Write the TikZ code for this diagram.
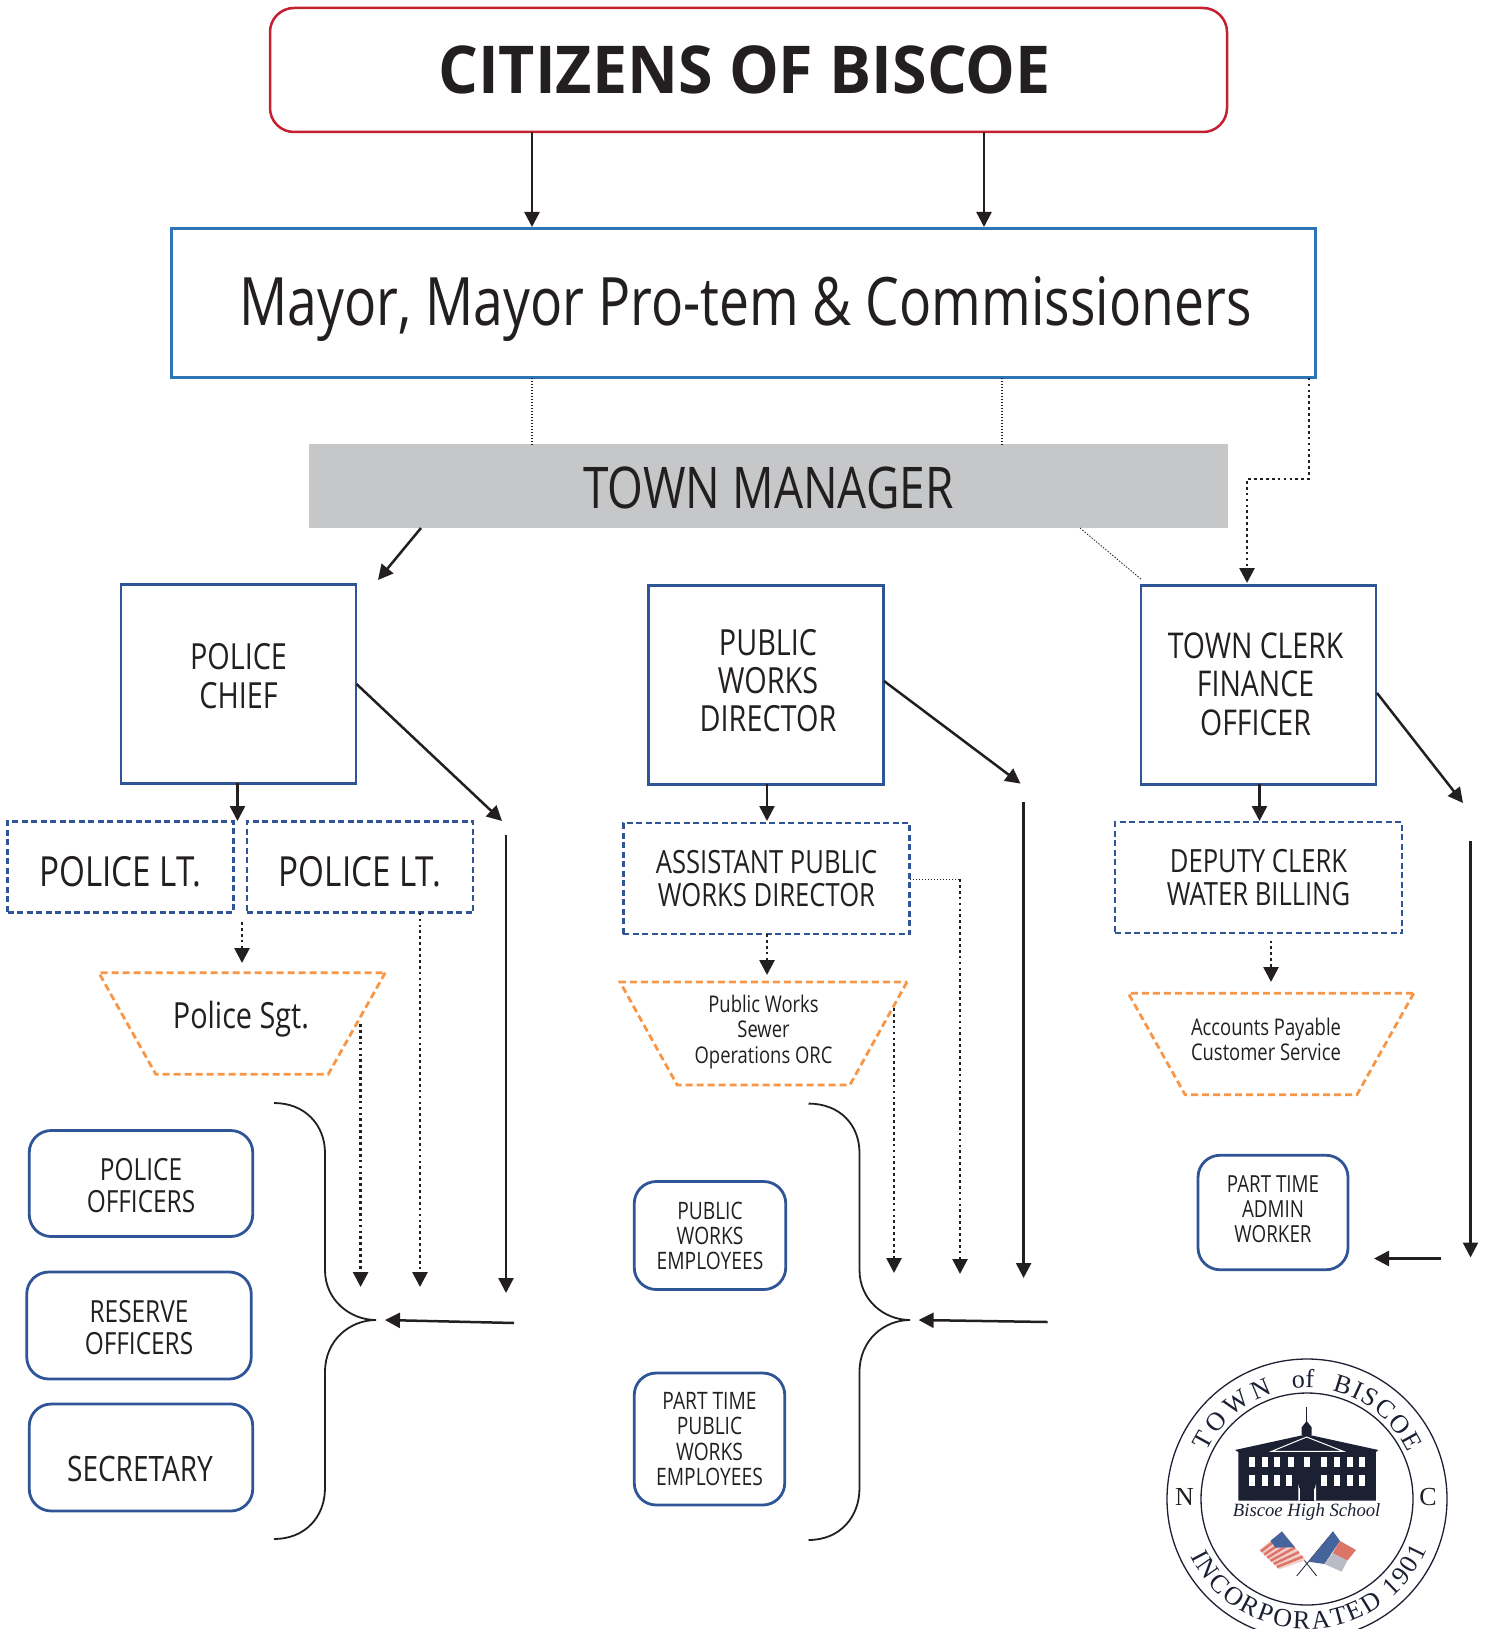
\documentclass[tikz,border=0pt]{standalone}
\usepackage{xcolor}
\usepackage{fontspec}
\setmainfont{Open Sans}[FakeStretch=0.8]
\newfontfamily\titlefont{Open Sans}[FakeStretch=0.95]
\newfontfamily\sealfont{Liberation Serif}
\usepackage{tikz}
\usetikzlibrary{shapes.geometric,arrows.meta,decorations.text,calc}
\definecolor{inkline}{HTML}{231F20}
\definecolor{redline}{HTML}{C4202F}
\definecolor{skyline}{HTML}{2E75B6}
\definecolor{navyline}{HTML}{2F5597}
\definecolor{orangeline}{HTML}{F79646}
\definecolor{managergray}{HTML}{C6C7C9}
\definecolor{schoolnavy}{HTML}{1C2033}
\definecolor{flagred}{HTML}{DC7468}
\definecolor{flagblue}{HTML}{46649C}
\definecolor{flaggray}{HTML}{BBBBC6}
\newcommand{\fs}[2]{\fontsize{#1}{#2}\selectfont}

\begin{document}
\begin{tikzpicture}[x=1pt,y=-1pt,
		every node/.style={align=center, text=inkline, inner sep=0pt, outer sep=0pt},
		squarebox/.style={draw=navyline, line width=2.8pt},
		dashbox/.style={draw=navyline, line width=2.8pt, dash pattern=on 6pt off 3.5pt},
		softbox/.style={draw=navyline, line width=2.8pt, rounded corners=22pt},
		trapbox/.style={draw=orangeline, line width=2.8pt, dash pattern=on 7pt off 4pt, trapezium, shape border rotate=180, trapezium stretches=true, trapezium left angle=71.5, trapezium right angle=71.5},
		solidarrow/.style={draw=inkline, line width=2.5pt, -{Triangle[length=15pt,width=15pt]}},
		dotarrow/.style={draw=inkline, line width=2.7pt, dash pattern=on 2.7pt off 3.2pt, -{Triangle[length=15pt,width=15pt]}},
		thindots/.style={draw=inkline, line width=0.8pt, dash pattern=on 1.5pt off 1.5pt},
		bracket/.style={draw=inkline, line width=1.8pt}]
	\useasboundingbox (0,0) rectangle (1487,1629);

	% top of the chart
	\node[draw=redline, line width=2.5pt, rounded corners=24pt, minimum width=957pt, minimum height=124pt, label={[font=\titlefont\fs{66}{70}\bfseries,xshift=-4pt]center:{CITIZENS OF BISCOE}}] (citizens) at (748.5,70) {};
	\node[draw=skyline, line width=2.8pt, minimum width=1144.5pt, minimum height=149.5pt, label={[font=\fs{66.8}{70},yshift=-6pt,xshift=2pt]center:{Mayor, Mayor Pro-tem \& Commissioners}}] (mayor) at (743.5,303) {};
	\node[fill=managergray, minimum width=919pt, minimum height=84pt, label={[font=\fs{57.5}{60},yshift=-2pt]center:{TOWN MANAGER}}] (manager) at (768.5,486) {};

	% department heads
	\node[squarebox, minimum width=235pt, minimum height=198.5pt, label={[font=\fs{36}{39.5},yshift=8pt]center:{POLICE\\CHIEF}}] (chief) at (238.5,684) {};
	\node[squarebox, minimum width=234.5pt, minimum height=198.5pt, label={[font=\fs{36}{38},yshift=4.5pt,xshift=2pt]center:{PUBLIC\\WORKS\\DIRECTOR}}] (director) at (766,685) {};
	\node[squarebox, minimum width=235pt, minimum height=198.5pt, label={[font=\fs{35.5}{38.5},xshift=-3pt,yshift=1pt]center:{TOWN CLERK\\FINANCE\\OFFICER}}] (clerk) at (1258.5,685) {};

	% dashed second row
	\node[dashbox, minimum width=225.5pt, minimum height=91.5pt, label={[font=\fs{41.5}{42},yshift=-5pt]center:{POLICE LT.}}] (lt a) at (120.5,867) {};
	\node[dashbox, minimum width=226pt, minimum height=91.5pt, label={[font=\fs{41.5}{42},yshift=-5pt]center:{POLICE LT.}}] (lt b) at (360,867) {};
	\node[dashbox, minimum width=286.5pt, minimum height=111pt, font=\fs{32}{33.5}] (assistant) at (766.5,878.5) {ASSISTANT PUBLIC\\WORKS DIRECTOR};
	\node[dashbox, minimum width=287pt, minimum height=111pt, font=\fs{32}{33.5}] (deputy) at (1258.5,877.5) {DEPUTY CLERK\\WATER BILLING};

	% trapezoids, their texts sit a little high
	\node[trapbox, minimum width=286.5pt, minimum height=101.5pt] (sgt) at (242,1023.5) {\phantom{M}};
	\node[font=\fs{36}{36}] (sgt text) at (241,1019) {Police Sgt.};
	\node[trapbox, minimum width=287pt, minimum height=103pt] (sewer) at (763.5,1033.5) {\phantom{M}};
	\node[font=\fs{23}{25.5}] (sewer text) at (763.5,1032) {Public Works\\Sewer\\Operations ORC};
	\node[trapbox, minimum width=285.5pt, minimum height=101.5pt] (accounts) at (1271,1044) {\phantom{M}};
	\node[font=\fs{23}{25}] (accounts text) at (1266,1039) {Accounts Payable\\Customer Service};

	% staff boxes
	\node[softbox, minimum width=223.5pt, minimum height=106pt, label={[font=\fs{30.5}{32},yshift=-2.5pt]center:{POLICE\\OFFICERS}}] (officers) at (141,1183.5) {};
	\node[softbox, minimum width=224.5pt, minimum height=107pt, label={[font=\fs{30.5}{32},yshift=-2pt]center:{RESERVE\\OFFICERS}}] (reserve) at (139,1325.5) {};
	\node[softbox, minimum width=223.5pt, minimum height=107pt, label={[font=\fs{35}{32},yshift=-11pt,xshift=-1pt]center:SECRETARY}] (secretary) at (141,1457.5) {};
	\node[softbox, minimum width=151.5pt, minimum height=108pt, font=\fs{24}{25}] (employees) at (710,1235.5) {PUBLIC\\WORKS\\EMPLOYEES};
	\node[softbox, minimum width=150.5pt, minimum height=132pt, font=\fs{24}{25.5}] (part public) at (709.5,1439) {PART TIME\\PUBLIC\\WORKS\\EMPLOYEES};
	\node[softbox, minimum width=150pt, minimum height=114.5pt, label={[font=\fs{23.5}{25},yshift=3pt]center:{PART TIME\\ADMIN\\WORKER}}] (part admin) at (1273,1212.5) {};

	% free ends of the connectors
	\coordinate (mayor a) at (532,227);
	\coordinate (mayor b) at (984,227);
	\coordinate (manager a) at (532,444);
	\coordinate (manager b) at (1002,444);
	\coordinate (elbow a) at (1309,479);
	\coordinate (elbow b) at (1247,479);
	\coordinate (clerk in) at (1247,583);
	\coordinate (diag a) at (1080,528);
	\coordinate (diag b) at (1142,580);
	\coordinate (chief in a) at (421,528);
	\coordinate (chief in b) at (378,580);
	\coordinate (chief out a) at (356.5,684);
	\coordinate (chief out b) at (502,821);
	\coordinate (director out a) at (884,681);
	\coordinate (director out b) at (1020.5,783.6);
	\coordinate (clerk out a) at (1377,693);
	\coordinate (clerk out b) at (1463,803);
	\coordinate (lt in) at (237.5,821);
	\coordinate (assistant in) at (767,821);
	\coordinate (deputy in) at (1259.5,821);
	\coordinate (lt out) at (242,922);
	\coordinate (sgt in) at (242,963);
	\coordinate (sewer in) at (767,975);
	\coordinate (deputy out) at (1271,940.5);
	\coordinate (accounts in) at (1271,982);
	\coordinate (sgt out) at (360.6,1024);
	\coordinate (sgt end) at (360.6,1287);
	\coordinate (lt end) at (420,1287);
	\coordinate (police top) at (506,834.5);
	\coordinate (police end) at (506,1293);
	\coordinate (sewer out) at (894,1008);
	\coordinate (sewer end) at (894,1273);
	\coordinate (assistant corner) at (960,879);
	\coordinate (assistant end) at (960,1274);
	\coordinate (works top) at (1023.6,802);
	\coordinate (works end) at (1023.6,1278);
	\coordinate (clerk top) at (1470.5,841);
	\coordinate (clerk end) at (1470.5,1257.5);
	\coordinate (police left a) at (514,1323);
	\coordinate (police left b) at (385,1320);
	\coordinate (works left a) at (1047.5,1322);
	\coordinate (works left b) at (918.6,1320);
	\coordinate (clerk left a) at (1441,1258.5);
	\coordinate (clerk left b) at (1374,1258.5);
	\coordinate (tip a) at (376,1320);
	\coordinate (tip b) at (910,1320);

	% connectors
	\draw[solidarrow] (citizens.south -| mayor a) -- (mayor a);
	\draw[solidarrow] (citizens.south -| mayor b) -- (mayor b);
	\draw[thindots, line width=1.2pt] (mayor.south -| manager a) -- (manager a);
	\draw[thindots, line width=1.2pt] (mayor.south -| manager b) -- (manager b);
	\draw[dotarrow] (mayor.south -| elbow a) -- (elbow a) -- (elbow b) -- (clerk in);
	\draw[thindots] (diag a) -- (diag b);
	\draw[solidarrow] (chief in a) -- (chief in b);
	\draw[solidarrow] (chief out a) -- (chief out b);
	\draw[solidarrow] (director out a) -- (director out b);
	\draw[solidarrow] (clerk out a) -- (clerk out b);
	\draw[solidarrow] (chief.south -| lt in) -- (lt in);
	\draw[solidarrow] (director.south -| assistant in) -- (assistant in);
	\draw[solidarrow] (clerk.south -| deputy in) -- (deputy in);
	\draw[dotarrow] (lt out) -- (sgt in);
	\draw[dotarrow] (assistant.south -| sewer in) -- (sewer in);
	\draw[dotarrow] (deputy out) -- (accounts in);

	% long drops to the brackets
	\draw[dotarrow] (sgt out) -- (sgt end);
	\draw[dotarrow] (lt b.south -| lt end) -- (lt end);
	\draw[solidarrow] (police top) -- (police end);
	\draw[dotarrow] (sewer out) -- (sewer end);
	\draw[thindots] (assistant.east |- assistant corner) -- (assistant corner);
	\draw[dotarrow] (assistant corner) -- (assistant end);
	\draw[solidarrow] (works top) -- (works end);
	\draw[solidarrow] (clerk top) -- (clerk end);
	\draw[solidarrow] (police left a) -- (police left b);
	\draw[solidarrow] (works left a) -- (works left b);
	\draw[solidarrow] (clerk left a) -- (clerk left b);

	% brackets
	\draw[bracket] (274,1103) .. controls (305,1103) and (325,1125) .. (325,1153) -- (325,1270) .. controls (325,1300) and (350,1320) .. (tip a) .. controls (350,1320) and (325,1340) .. (325,1372) -- (325,1488) .. controls (325,1517) and (305,1539) .. (274,1539);
	\draw[bracket] (808.5,1103.6) .. controls (840,1103.6) and (859.5,1125) .. (859.5,1153) -- (859.5,1270) .. controls (859.5,1300) and (884,1320) .. (tip b) .. controls (884,1320) and (859.5,1340) .. (859.5,1372) -- (859.5,1488) .. controls (859.5,1517) and (840,1540) .. (808.5,1540);

	% seal of the town
	\begin{scope}[shift={(1307,1499)},x=1pt,y=1pt]
		\draw[schoolnavy, line width=1.3pt] (0,0) circle (140);
		\draw[schoolnavy, line width=1.3pt] (0,0) circle (106);
		\path[decorate, decoration={text along path, text align=fit to path, text={|\sealfont\fs{26}{26}\color{schoolnavy}|TOWN}}] (155:111) arc (155:108:111);
		\path[decorate, decoration={text along path, text align=center, text={|\sealfont\fs{26}{26}\color{schoolnavy}|of}}] (101:111) arc (101:83:111);
		\path[decorate, decoration={text along path, text align=fit to path, text={|\sealfont\fs{26}{26}\color{schoolnavy}|BISCOE}}] (77:111) arc (77:25:111);
		\path[decorate, decoration={text along path, text align=fit to path, text={|\sealfont\fs{26}{26}\color{schoolnavy}|INCORPORATED 1901}}] (206:130) arc (206:337:130);
		\node[font=\sealfont\fs{26}{26}] (seal n) at (-122.5,2) {N};
		\node[font=\sealfont\fs{26}{26}] (seal c) at (121,2) {C};
	\end{scope}
	\begin{scope}[shift={(1140,1340)},x=0.3333pt,y=-0.3333pt]
		% school building
		\fill[schoolnavy] (285,330) -- (500,283) -- (715,330) -- (708,336) -- (708,482) -- (295,482) -- (295,336) -- cycle;
		\fill[schoolnavy] (485,285) -- (485,262) -- (500,243) -- (515,262) -- (515,285) -- cycle;
		\draw[schoolnavy, line width=1pt] (500,200) -- (500,250);
		\draw[white, line width=1pt] (395,334) -- (500,291) -- (610,334) -- cycle;
		\foreach \winx in {327,365,403,443,492,543,582,620,658} {
			\fill[white] (\winx,350) rectangle +(18,32);
		}
		\foreach \winx in {327,365,403,438,543,582,620,658} {
			\fill[white] (\winx,405) rectangle +(18,33);
		}
		\fill[white] (475,482) -- (475,432) arc (180:0:26.5) -- (528,482) -- cycle;
		\fill[schoolnavy] (480,482) rectangle (523,442);
		\node[font=\sealfont\itshape\fs{18.7}{21}, text=schoolnavy] (school) at (500,516) {Biscoe High School};
		% flags and their poles
		\draw[schoolnavy, line width=0.8pt] (530,708) -- (425,575);
		\draw[schoolnavy, line width=0.8pt] (470,708) -- (580,575);
		\coordinate (us a) at (425,575);
		\coordinate (us b) at (497,660);
		\coordinate (us c) at (418,688);
		\coordinate (us d) at (358,630);
		\fill[flagred!35!white] (us a) -- (us b) -- (us c) -- (us d) -- cycle;
		\foreach \t in {0.08,0.24,0.40,0.56,0.72,0.88} {
			\draw[flagred, line width=2.5pt] ($(us a)!\t!(us b)$) -- ($(us d)!\t!(us c)$);
		}
		\fill[flagblue] (us a) -- ($(us a)!0.55!(us b)$) -- ($(us d)!0.55!(us c)!0.45!(us a)$) -- ($(us d)!0.5!(us a)$) -- cycle;
		\fill[flagblue] (580,575) -- (600,603) -- (553,672) -- (505,665) -- cycle;
		\fill[flagred] (600,603) -- (648,630) -- (622,662) -- (578,640) -- cycle;
		\fill[flaggray] (578,640) -- (622,662) -- (605,695) -- (553,672) -- cycle;
	\end{scope}
\end{tikzpicture}
\end{document}
